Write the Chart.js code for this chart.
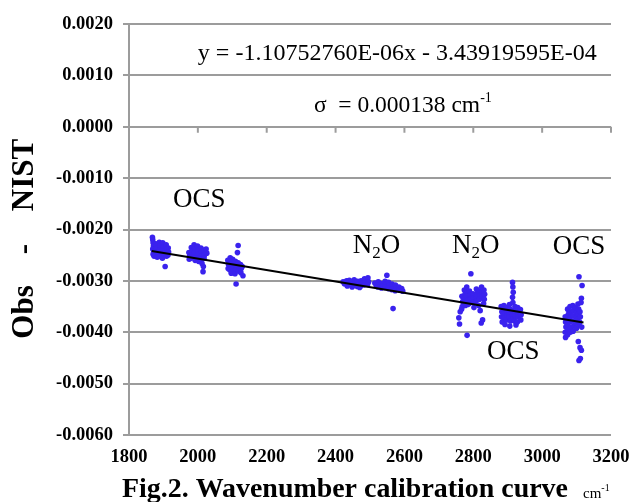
<!DOCTYPE html>
<html><head><meta charset="utf-8">
<script src="https://cdn.jsdelivr.net/npm/chart.js@4/dist/chart.umd.min.js"></script>
<style>html,body{margin:0;padding:0;background:#fff}#wrap{width:632px;height:502px;position:relative}</style>
</head><body><div id="wrap"><canvas id="c" width="632" height="502"></canvas></div>
<script>
// ---- Data ----
const xTicksMin = 1800, xTicksMax = 3200, xStep = 200;
const yMin = -0.006, yMax = 0.002, yStep = 0.001;

const ocs1X = [1868,1869,1870,1871,1869,1872,1870,1873,1878,1880,1881,1879,1882,1888,1890,1889,1891,1887,1898,1900,1899,1901,1897,1905,1908,1910,1911,1909,1914,1915,1913];
const ocs1Y = [-0.00215,-0.00220,-0.00226,-0.00232,-0.00238,-0.00243,-0.00248,-0.00252,-0.00228,-0.00236,-0.00244,-0.00250,-0.00254,-0.00225,-0.00232,-0.00240,-0.00246,-0.00252,-0.00226,-0.00234,-0.00242,-0.00249,-0.00256,-0.00272,-0.00230,-0.00238,-0.00245,-0.00252,-0.00236,-0.00244,-0.00250];

const ocs2X = [1974,1976,1975,1981,1983,1982,1980,1989,1991,1990,1988,1992,1999,2001,2000,1998,2002,2009,2011,2010,2008,2012,2017,2019,2018,2016,2015,2024,2026];
const ocs2Y = [-0.00245,-0.00252,-0.00258,-0.00235,-0.00242,-0.00250,-0.00256,-0.00230,-0.00238,-0.00246,-0.00253,-0.00260,-0.00232,-0.00240,-0.00248,-0.00255,-0.00262,-0.00236,-0.00244,-0.00252,-0.00258,-0.00266,-0.00240,-0.00250,-0.00256,-0.00272,-0.00282,-0.00238,-0.00246];

const ocs3X = [2087,2089,2088,2094,2096,2095,2093,2097,2101,2103,2102,2100,2109,2111,2110,2108,2111,2115,2117,2117,2119,2118,2124,2126,2125,2129,2131];
const ocs3Y = [-0.00260,-0.00268,-0.00276,-0.00255,-0.00263,-0.00271,-0.00279,-0.00285,-0.00258,-0.00266,-0.00274,-0.00282,-0.00262,-0.00270,-0.00278,-0.00286,-0.00306,-0.00245,-0.00231,-0.00265,-0.00273,-0.00281,-0.00268,-0.00276,-0.00284,-0.00272,-0.00290];

const n2o1X = [2422,2426,2432,2436,2434,2444,2446,2448,2454,2456,2453,2464,2466,2463,2474,2476,2473,2484,2486,2483,2494,2496,2493,2440,2470];
const n2o1Y = [-0.00302,-0.00306,-0.00300,-0.00305,-0.00310,-0.00303,-0.00308,-0.00312,-0.00298,-0.00304,-0.00309,-0.00301,-0.00306,-0.00311,-0.00300,-0.00305,-0.00310,-0.00296,-0.00303,-0.00308,-0.00294,-0.00302,-0.00307,-0.00299,-0.00313];

const n2o2X = [2514,2518,2524,2527,2523,2534,2537,2533,2544,2546,2543,2549,2554,2556,2553,2564,2566,2563,2567,2574,2576,2573,2584,2586,2592,2595];
const n2o2Y = [-0.00304,-0.00309,-0.00302,-0.00307,-0.00312,-0.00305,-0.00310,-0.00314,-0.00301,-0.00307,-0.00313,-0.00289,-0.00303,-0.00309,-0.00315,-0.00306,-0.00312,-0.00317,-0.00354,-0.00308,-0.00314,-0.00319,-0.00312,-0.00318,-0.00315,-0.00320];

const n2o3X = [2758,2760,2762,2767,2769,2768,2766,2774,2776,2775,2773,2777,2781,2783,2780,2782,2784,2782,2789,2791,2790,2788,2793,2799,2801,2800,2802,2809,2811,2810,2808,2817,2819,2818,2816,2820,2824,2826,2825,2827,2823,2831,2833,2832,2830];
const n2o3Y = [-0.00372,-0.00384,-0.00360,-0.00330,-0.00340,-0.00350,-0.00355,-0.00318,-0.00326,-0.00334,-0.00342,-0.00348,-0.00312,-0.00322,-0.00330,-0.00338,-0.00346,-0.00406,-0.00320,-0.00328,-0.00336,-0.00344,-0.00286,-0.00325,-0.00333,-0.00342,-0.00352,-0.00316,-0.00324,-0.00332,-0.00340,-0.00320,-0.00328,-0.00336,-0.00348,-0.00358,-0.00312,-0.00322,-0.00330,-0.00376,-0.00382,-0.00318,-0.00326,-0.00336,-0.00344];

const ocs4X = [2881,2883,2882,2884,2889,2891,2890,2888,2892,2897,2899,2898,2896,2905,2907,2906,2904,2908,2906,2914,2915,2916,2914,2915,2916,2914,2917,2921,2923,2922,2920,2924,2929,2931,2930,2928,2937,2939,2938];
const ocs4Y = [-0.00350,-0.00360,-0.00370,-0.00380,-0.00348,-0.00356,-0.00364,-0.00372,-0.00385,-0.00352,-0.00360,-0.00368,-0.00376,-0.00346,-0.00355,-0.00362,-0.00370,-0.00378,-0.00388,-0.00303,-0.00312,-0.00322,-0.00332,-0.00342,-0.00358,-0.00366,-0.00374,-0.00350,-0.00360,-0.00368,-0.00378,-0.00386,-0.00352,-0.00362,-0.00370,-0.00380,-0.00356,-0.00366,-0.00376];

const ocs5X = [3067,3068,3069,3067,3068,3074,3076,3075,3073,3076,3074,3081,3083,3082,3080,3084,3082,3089,3091,3090,3088,3092,3090,3097,3099,3098,3096,3100,3104,3106,3105,3103,3107,3105,3107,3107,3110,3111,3109,3110,3111,3114,3113,3115,3114,3116];
const ocs5Y = [-0.00370,-0.00380,-0.00390,-0.00400,-0.00410,-0.00355,-0.00365,-0.00375,-0.00385,-0.00395,-0.00405,-0.00350,-0.00360,-0.00370,-0.00380,-0.00390,-0.00400,-0.00348,-0.00358,-0.00368,-0.00378,-0.00388,-0.00398,-0.00352,-0.00362,-0.00372,-0.00382,-0.00392,-0.00345,-0.00355,-0.00365,-0.00375,-0.00385,-0.00418,-0.00292,-0.00455,-0.00360,-0.00370,-0.00380,-0.00430,-0.00451,-0.00334,-0.00342,-0.00390,-0.00435,-0.00309];

// Fitted line endpoints as drawn in the figure
const trendX = [1866, 3120];
const trendY = [-0.00242, -0.00381];

// ---- Build ----
const clusters = [[ocs1X,ocs1Y],[ocs2X,ocs2Y],[ocs3X,ocs3Y],[n2o1X,n2o1Y],[n2o2X,n2o2Y],[n2o3X,n2o3Y],[ocs4X,ocs4Y],[ocs5X,ocs5Y]];
const points = [];
clusters.forEach(([xs,ys]) => xs.forEach((x,i) => points.push({x:x, y:ys[i]})));
const trend = trendX.map((x,i) => ({x:x, y:trendY[i]}));

const SERIF = '"Liberation Serif","Times New Roman",serif';
const GRID = '#9c9c9c';
const BLUE = '#3a22ee';

function drawRich(ctx, parts, x, y) {
  let cx = x;
  parts.forEach(p => {
    ctx.font = p.font;
    ctx.fillText(p.text, cx, y + (p.dy || 0));
    cx += ctx.measureText(p.text).width;
  });
}

const annot = {
  id: 'annot',
  beforeDatasetsDraw(chart) {
    const {ctx, scales:{x, y}} = chart;
    const y0 = y.getPixelForValue(0);
    ctx.save();
    ctx.strokeStyle = GRID; ctx.lineWidth = 2;
    x.ticks.forEach(t => {
      const px = x.getPixelForValue(t.value);
      ctx.beginPath(); ctx.moveTo(px, y0); ctx.lineTo(px, y0 + 6); ctx.stroke();
    });
    ctx.restore();
  },
  afterDraw(chart) {
    const {ctx, scales:{x, y}} = chart;
    ctx.save();
    ctx.fillStyle = '#000';
    ctx.textBaseline = 'alphabetic';
    ctx.textAlign = 'left';
    const P = (vx, vy) => [x.getPixelForValue(vx), y.getPixelForValue(vy)];
    // equation
    let [ex, ey] = P(2000, 0.0013);
    ctx.font = '24px ' + SERIF;
    ctx.fillText('y = -1.10752760E-06x - 3.43919595E-04', ex, ey);
    // sigma
    let [sx, sy] = P(2337, 0.00029);
    drawRich(ctx, [
      {text:'\u03C3  = 0.000138 cm', font:'23.5px ' + SERIF},
      {text:'-1', font:'14px ' + SERIF, dy:-10}
    ], sx, sy);
    // species labels
    const lab = (txt, vx, vy) => { const [lx, ly] = P(vx, vy); ctx.font = '27px ' + SERIF; ctx.fillText(txt, lx, ly); };
    const n2o = (vx, vy) => {
      const [lx, ly] = P(vx, vy);
      drawRich(ctx, [
        {text:'N', font:'27px ' + SERIF},
        {text:'2', font:'17px ' + SERIF, dy:5},
        {text:'O', font:'27px ' + SERIF}
      ], lx, ly);
    };
    lab('OCS', 1928, -0.00157);
    n2o(2450, -0.00245);
    n2o(2738, -0.00245);
    lab('OCS', 3031, -0.00247);
    lab('OCS', 2840, -0.00452);
    // y title (rotated)
    ctx.save();
    ctx.translate(25, 0);
    ctx.rotate(-Math.PI/2);
    ctx.font = 'bold 31px ' + SERIF;
    ctx.textAlign = 'center';
    ctx.textBaseline = 'middle';
    ctx.fillText('NIST', -175, 0);
    ctx.fillText('-', -249, 0);
    ctx.fillText('Obs', -312, 0);
    ctx.restore();
    // caption
    ctx.font = 'bold 26px ' + SERIF;
    const cap = 'Fig.2. Wavenumber calibration curve';
    const w = ctx.measureText(cap).width;
    const fs = 26 * 446 / w;
    ctx.font = 'bold ' + fs.toFixed(2) + 'px ' + SERIF;
    ctx.fillText(cap, 122, 497);
    drawRich(ctx, [
      {text:'cm', font:'15px ' + SERIF},
      {text:'-1', font:'10px ' + SERIF, dy:-7}
    ], 583, 498);
    ctx.restore();
  }
};

new Chart(document.getElementById('c'), {
  type: 'scatter',
  data: {
    datasets: [
      {data: points, backgroundColor: BLUE, borderWidth: 0, pointRadius: 2.8, pointHoverRadius: 2.8, order: 1},
      {type: 'line', data: trend, borderColor: '#000', borderWidth: 2, pointRadius: 0, showLine: true, fill: false, order: 0}
    ]
  },
  options: {
    responsive: false,
    animation: false,
    devicePixelRatio: 1,
    layout: {padding: {top: 24, right: 21, left: 0, bottom: 0}},
    plugins: {legend: {display: false}, tooltip: {enabled: false}},
    scales: {
      x: {
        type: 'linear', min: xTicksMin, max: xTicksMax,
        ticks: {stepSize: xStep, color: '#000', font: {family: SERIF, size: 18.5, weight: 'bold'}, padding: 11, maxRotation: 0,
          callback: v => String(Math.round(v))},
        grid: {display: false, drawTicks: false},
        border: {display: false},
        afterFit: s => { s.height = 67; s.paddingLeft = 0; s.paddingRight = 0; }
      },
      y: {
        type: 'linear', min: yMin, max: yMax,
        ticks: {stepSize: yStep, color: '#000', font: {family: SERIF, size: 18.5, weight: 'bold'}, padding: 10,
          callback: v => (Math.abs(v) < 1e-12 ? 0 : v).toFixed(4)},
        grid: {color: GRID, lineWidth: 2, tickLength: 6, drawTicks: true},
        border: {color: GRID, width: 2},
        afterFit: s => { s.width = 129; s.paddingTop = 0; s.paddingBottom = 0; }
      }
    }
  },
  plugins: [annot]
});
</script>
</body></html>
